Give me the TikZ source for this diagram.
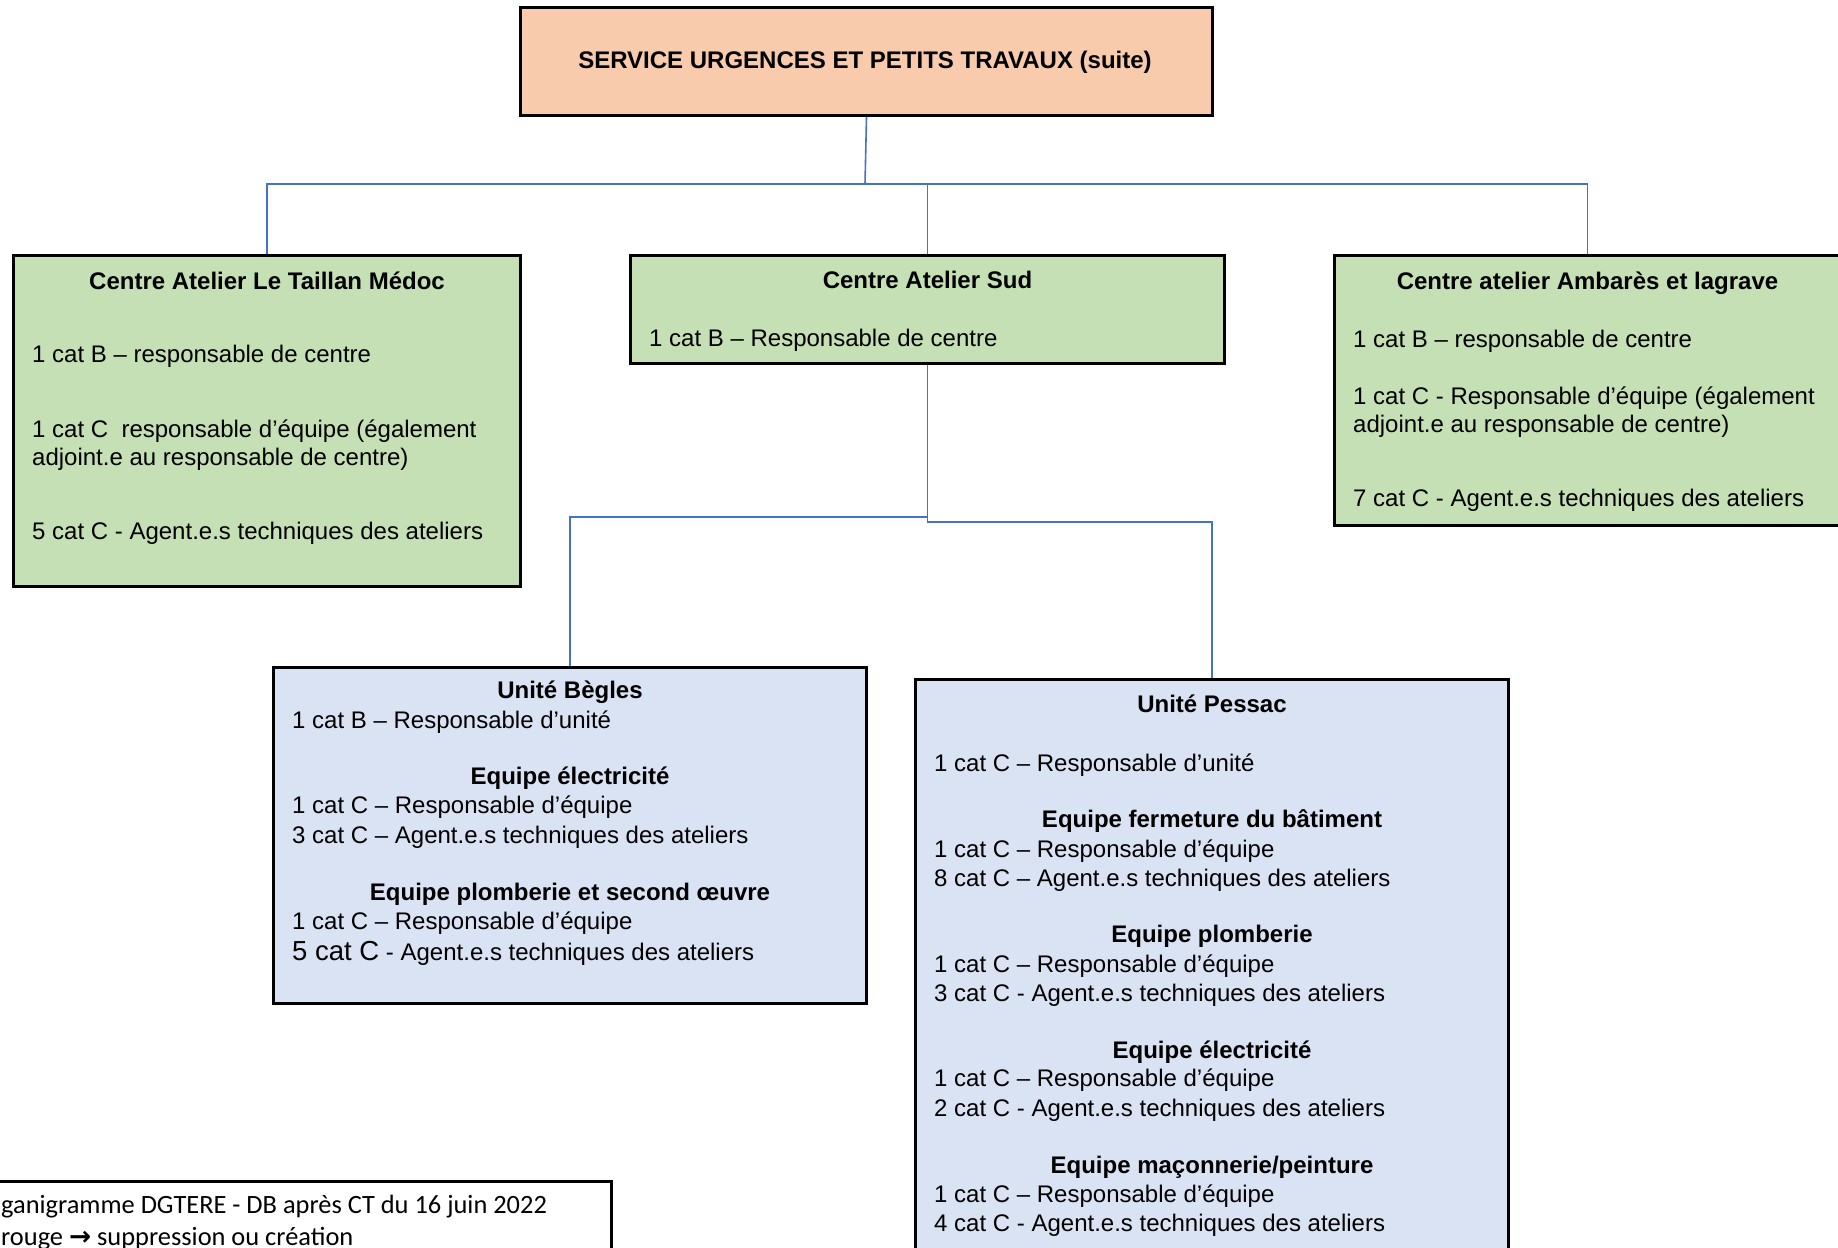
\documentclass[tikz,border=0pt]{standalone}
\usepackage{fontspec}
\setmainfont{Liberation Sans}
\newfontfamily\legendefont{Carlito}
\newfontfamily\flechefont{DejaVu Sans}
\definecolor{peche}{HTML}{F8CBAD}
\definecolor{vert}{HTML}{C5E0B4}
\definecolor{bleuclair}{HTML}{DAE3F3}
\definecolor{lienbleu}{HTML}{4472C4}

\begin{document}
\begin{tikzpicture}[x=1pt, y=-1pt,
    cadre/.style={draw=black, line width=3pt, inner sep=0pt, anchor=north west},
    lien/.style={draw=lienbleu, line width=1.6pt},
    ligne/.style={anchor=base west, inner sep=0pt, font=\fontsize{24}{29}\selectfont},
    titre/.style={anchor=base, inner sep=0pt, font=\fontsize{24}{29}\selectfont\bfseries},
    legende/.style={anchor=base west, inner sep=0pt, font=\legendefont\fontsize{26.4}{32}\selectfont}]
    \clip (0,0) rectangle (1838,1247);
    % boxes
    \node [cadre, fill=peche, minimum width=692, minimum height=108] (service) at (519,6) {};
    \node [cadre, fill=vert, minimum width=507, minimum height=331] (taillan) at (12,254) {};
    \node [cadre, fill=vert, minimum width=594, minimum height=108] (sud) at (629,254) {};
    \node [cadre, fill=vert, minimum width=506, minimum height=270] (ambares) at (1333,254) {};
    \node [cadre, fill=bleuclair, minimum width=593, minimum height=336] (begles) at (272,666) {};
    \node [cadre, fill=bleuclair, minimum width=593, minimum height=600] (pessac) at (914,678) {};
    \node [cadre, fill=white, anchor=north east, minimum width=640, minimum height=120] (legende) at (613,1180) {};
    % connectors
    \coordinate (jonction) at (865,184);
    \draw [lien] (service.south) -- (jonction);
    \foreach \n in {taillan, sud, ambares}
        \draw [lien] (jonction) -| (\n.north);
    \draw [lien] (sud.south) -- ++(0,152) -| (begles.north);
    \draw [lien] (sud.south) -- ++(0,157) -| (pessac.north);
    % titles
    \node [titre] (service-titre) at (865,69) {SERVICE URGENCES ET PETITS TRAVAUX (suite)};
    \node [titre] (taillan-titre) at (taillan.north |- 0,289) {Centre Atelier Le Taillan Médoc};
    \node [titre] (sud-titre) at (sud.north |- 0,288) {Centre Atelier Sud};
    \node [titre] (ambares-titre) at (ambares.north |- 0,289) {Centre atelier Ambarès et lagrave};
    \node [titre] (begles-titre) at (begles.north |- 0,698) {Unité Bègles};
    \node [titre] (begles-elec) at (begles.north |- 0,784) {Equipe électricité};
    \node [titre] (begles-plomb) at (begles.north |- 0,900) {Equipe plomberie et second œuvre};
    \node [titre] (pessac-titre) at (pessac.north |- 0,712) {Unité Pessac};
    \node [titre] (pessac-ferm) at (pessac.north |- 0,827) {Equipe fermeture du bâtiment};
    \node [titre] (pessac-plomb) at (pessac.north |- 0,942) {Equipe plomberie};
    \node [titre] (pessac-elec) at (pessac.north |- 0,1058) {Equipe électricité};
    \node [titre] (pessac-macon) at (pessac.north |- 0,1173) {Equipe maçonnerie/peinture};
    % lines of the centres
    \foreach \y/\t [count=\i] in {362/{1 cat B – responsable de centre},
            437/{1 cat C\ \ responsable d’équipe (également},
            465/{adjoint.e au responsable de centre)},
            539/{5 cat C - Agent.e.s techniques des ateliers}}
        \node [ligne] (taillan-\i) at (32,\y) {\t};
    \node [ligne] (sud-1) at (649,346) {1 cat B – Responsable de centre};
    \foreach \y/\t [count=\i] in {347/{1 cat B – responsable de centre},
            404/{1 cat C - Responsable d’équipe (également},
            432/{adjoint.e au responsable de centre)},
            506/{7 cat C - Agent.e.s techniques des ateliers}}
        \node [ligne] (ambares-\i) at (1353,\y) {\t};
    % lines of the units
    \foreach \y/\t [count=\i] in {728/{1 cat B – Responsable d’unité},
            813/{1 cat C – Responsable d’équipe},
            843/{3 cat C – Agent.e.s techniques des ateliers},
            929/{1 cat C – Responsable d’équipe}}
        \node [ligne] (begles-\i) at (292,\y) {\t};
    \node [ligne] (begles-5) at (292,960) {{\fontsize{27.5}{29}\selectfont 5 cat C} - Agent.e.s techniques des ateliers};
    \foreach \y/\t [count=\i] in {771/{1 cat C – Responsable d’unité},
            857/{1 cat C – Responsable d’équipe},
            886/{8 cat C – Agent.e.s techniques des ateliers},
            972/{1 cat C – Responsable d’équipe},
            1001/{3 cat C - Agent.e.s techniques des ateliers},
            1086/{1 cat C – Responsable d’équipe},
            1116/{2 cat C - Agent.e.s techniques des ateliers},
            1202/{1 cat C – Responsable d’équipe},
            1231/{4 cat C - Agent.e.s techniques des ateliers}}
        \node [ligne] (pessac-\i) at (934,\y) {\t};
    % legend
    \node [legende] (legende-1) at (1,1213) {ganigramme DGTERE - DB après CT du 16 juin 2022};
    \node [legende] (legende-2) at (1,1245) {rouge {\flechefont\bfseries →} suppression ou création};
\end{tikzpicture}
\end{document}
